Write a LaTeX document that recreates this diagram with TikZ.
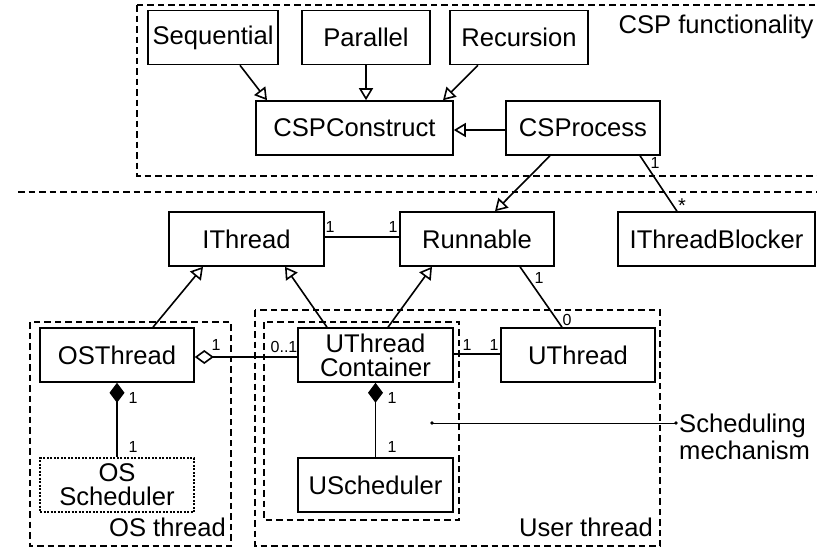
\documentclass[tikz,border=0pt]{standalone}
\usepackage{fontspec}
\setmainfont{Liberation Sans}
\usetikzlibrary{arrows.meta,calc}

\tikzset{
  cls/.style={draw, line width=1.6pt, minimum height=54pt, inner sep=2pt,
    font=\fontsize{25.6}{26}\selectfont, align=center},
  osbox/.style={cls, line width=1.4pt, dash pattern=on 2pt off 1.5pt},
  frame/.style={draw, line width=1.4pt, dash pattern=on 6.5pt off 4pt},
  conn/.style={line width=1.6pt},
  gen/.style={conn, -{Triangle[open, length=12pt, width=14pt, fill=white]}},
  agg/.style={conn, {Diamond[open, length=19pt, width=14pt, fill=white]}-},
  comp/.style={conn, {Diamond[length=20pt, width=15pt]}-},
  mult/.style={font=\fontsize{16}{17}\selectfont, inner sep=0pt},
  caption/.style={font=\fontsize{25.6}{27}\selectfont, inner sep=0pt, align=left},
}

\begin{document}
\begin{tikzpicture}[x=1pt, y=-1pt]
  \fill[white] (0,0) rectangle (817,549);
  \useasboundingbox (0,0) rectangle (817,549);

  % package frames
  \draw[frame] (137,5) rectangle (830,176);
  \draw[frame] (18,192) -- (817,192);
  \draw[frame] (30,322) rectangle (231,546);
  \draw[frame] (255,310) rectangle (660,546);
  \draw[frame] (264,322) rectangle (459,520);

  \node[caption, anchor=center] (cspf) at (716,27) {CSP functionality};
  \node[caption, anchor=east] (osth) at (226,527) {OS thread};
  \node[caption, anchor=east] (usth) at (653,527) {User thread};

  % classes
  \node[cls, minimum width=130pt] (seq) at (213,37.5) {Sequential};
  \node[cls, minimum width=128pt] (par) at (366,37.5) {Parallel};
  \node[cls, minimum width=138pt] (rec) at (519,37.5) {Recursion};
  \node[cls, minimum width=197pt] (csc) at (354.5,128) {CSPConstruct};
  \node[cls, minimum width=154pt] (csp) at (583,128) {CSProcess};
  \node[cls, minimum width=155pt] (ith) at (246.5,239) {IThread};
  \node[cls, minimum width=154pt] (run) at (477,239) {Runnable};
  \node[cls, minimum width=197pt] (itb) at (716.5,239) {IThreadBlocker};
  \node[cls, minimum width=154pt] (ost) at (117,355) {OSThread};
  \node[cls, minimum width=155pt] (utc) at (375.5,355) {UThread\\[-2pt]Container};
  \node[cls, minimum width=154pt] (uth) at (578,355) {UThread};
  \node[osbox, minimum width=154pt] (oss) at (117,485) {OS\\[-2pt]Scheduler};
  \node[cls, minimum width=155pt] (usc) at (375.5,485) {UScheduler};

  % generalisations
  \draw[gen] ($(seq.south)+(27,0)$) -- ($(csc.north)+(-87.5,0)$);
  \draw[gen] (par.south) -- ($(csc.north)+(11.5,0)$);
  \draw[gen] ($(rec.south)+(-41,0)$) -- ($(csc.north)+(88.5,0)$);
  \draw[gen] ($(csp.west)+(0,2)$) -- ($(csc.east)+(0,2)$);
  \draw[gen] ($(csp.south)+(-33,0)$) -- ($(run.north)+(18,0)$);
  \draw[gen] ($(ost.north)+(36,0)$) -- ($(ith.south)+(-43.5,0)$);
  \draw[gen] ($(utc.north)+(-48.5,0)$) -- ($(ith.south)+(38.5,0)$);
  \draw[gen] ($(utc.north)+(12.5,0)$) -- ($(run.south)+(-45,0)$);

  % associations
  \draw[conn] ($(csp.south)+(57,0)$) -- ($(itb.north)+(-39.5,0)$);
  \node[mult] (m1) at (655,163) {1};
  \node[mult, font=\fontsize{20}{20}\selectfont] (m2) at (682,206) {*};

  \draw[conn] ($(ith.east)+(0,-2)$) -- ($(run.west)+(0,-2)$);
  \node[mult] (m3) at (330,227) {1};
  \node[mult] (m4) at (393,227) {1};

  \draw[conn] ($(run.south)+(43,0)$) -- ($(uth.north)+(-16,0)$);
  \node[mult] (m5) at (539,278) {1};
  \node[mult] (m6) at (567,320) {0};

  \draw[agg] ($(ost.east)+(0,2)$) -- ($(utc.west)+(0,2)$);
  \node[mult] (m7) at (216,345) {1};
  \node[mult] (m8) at (284,347) {0..1};

  \draw[conn] ($(utc.east)+(0,-1)$) -- ($(uth.west)+(0,-1)$);
  \node[mult] (m9) at (467,345) {1};
  \node[mult] (m10) at (494,345) {1};

  % compositions
  \draw[comp] (ost.south) -- (oss.north);
  \node[mult] (m11) at (133,398) {1};
  \node[mult] (m12) at (133,447) {1};

  \draw[comp] (utc.south) -- (usc.north);
  \node[mult] (m13) at (392,398) {1};
  \node[mult] (m14) at (392,447) {1};

  % scheduling mechanism callout
  \coordinate (smin) at (432,423);
  \coordinate (smout) at (676,423);
  \node[caption, anchor=west] (smtxt) at (679,437) {Scheduling\\mechanism};
  \draw[line width=0.9pt] (smin) -- (smout);
  \fill (smin) circle (1.8pt);
  \fill (smout) circle (1.8pt);
\end{tikzpicture}
\end{document}
